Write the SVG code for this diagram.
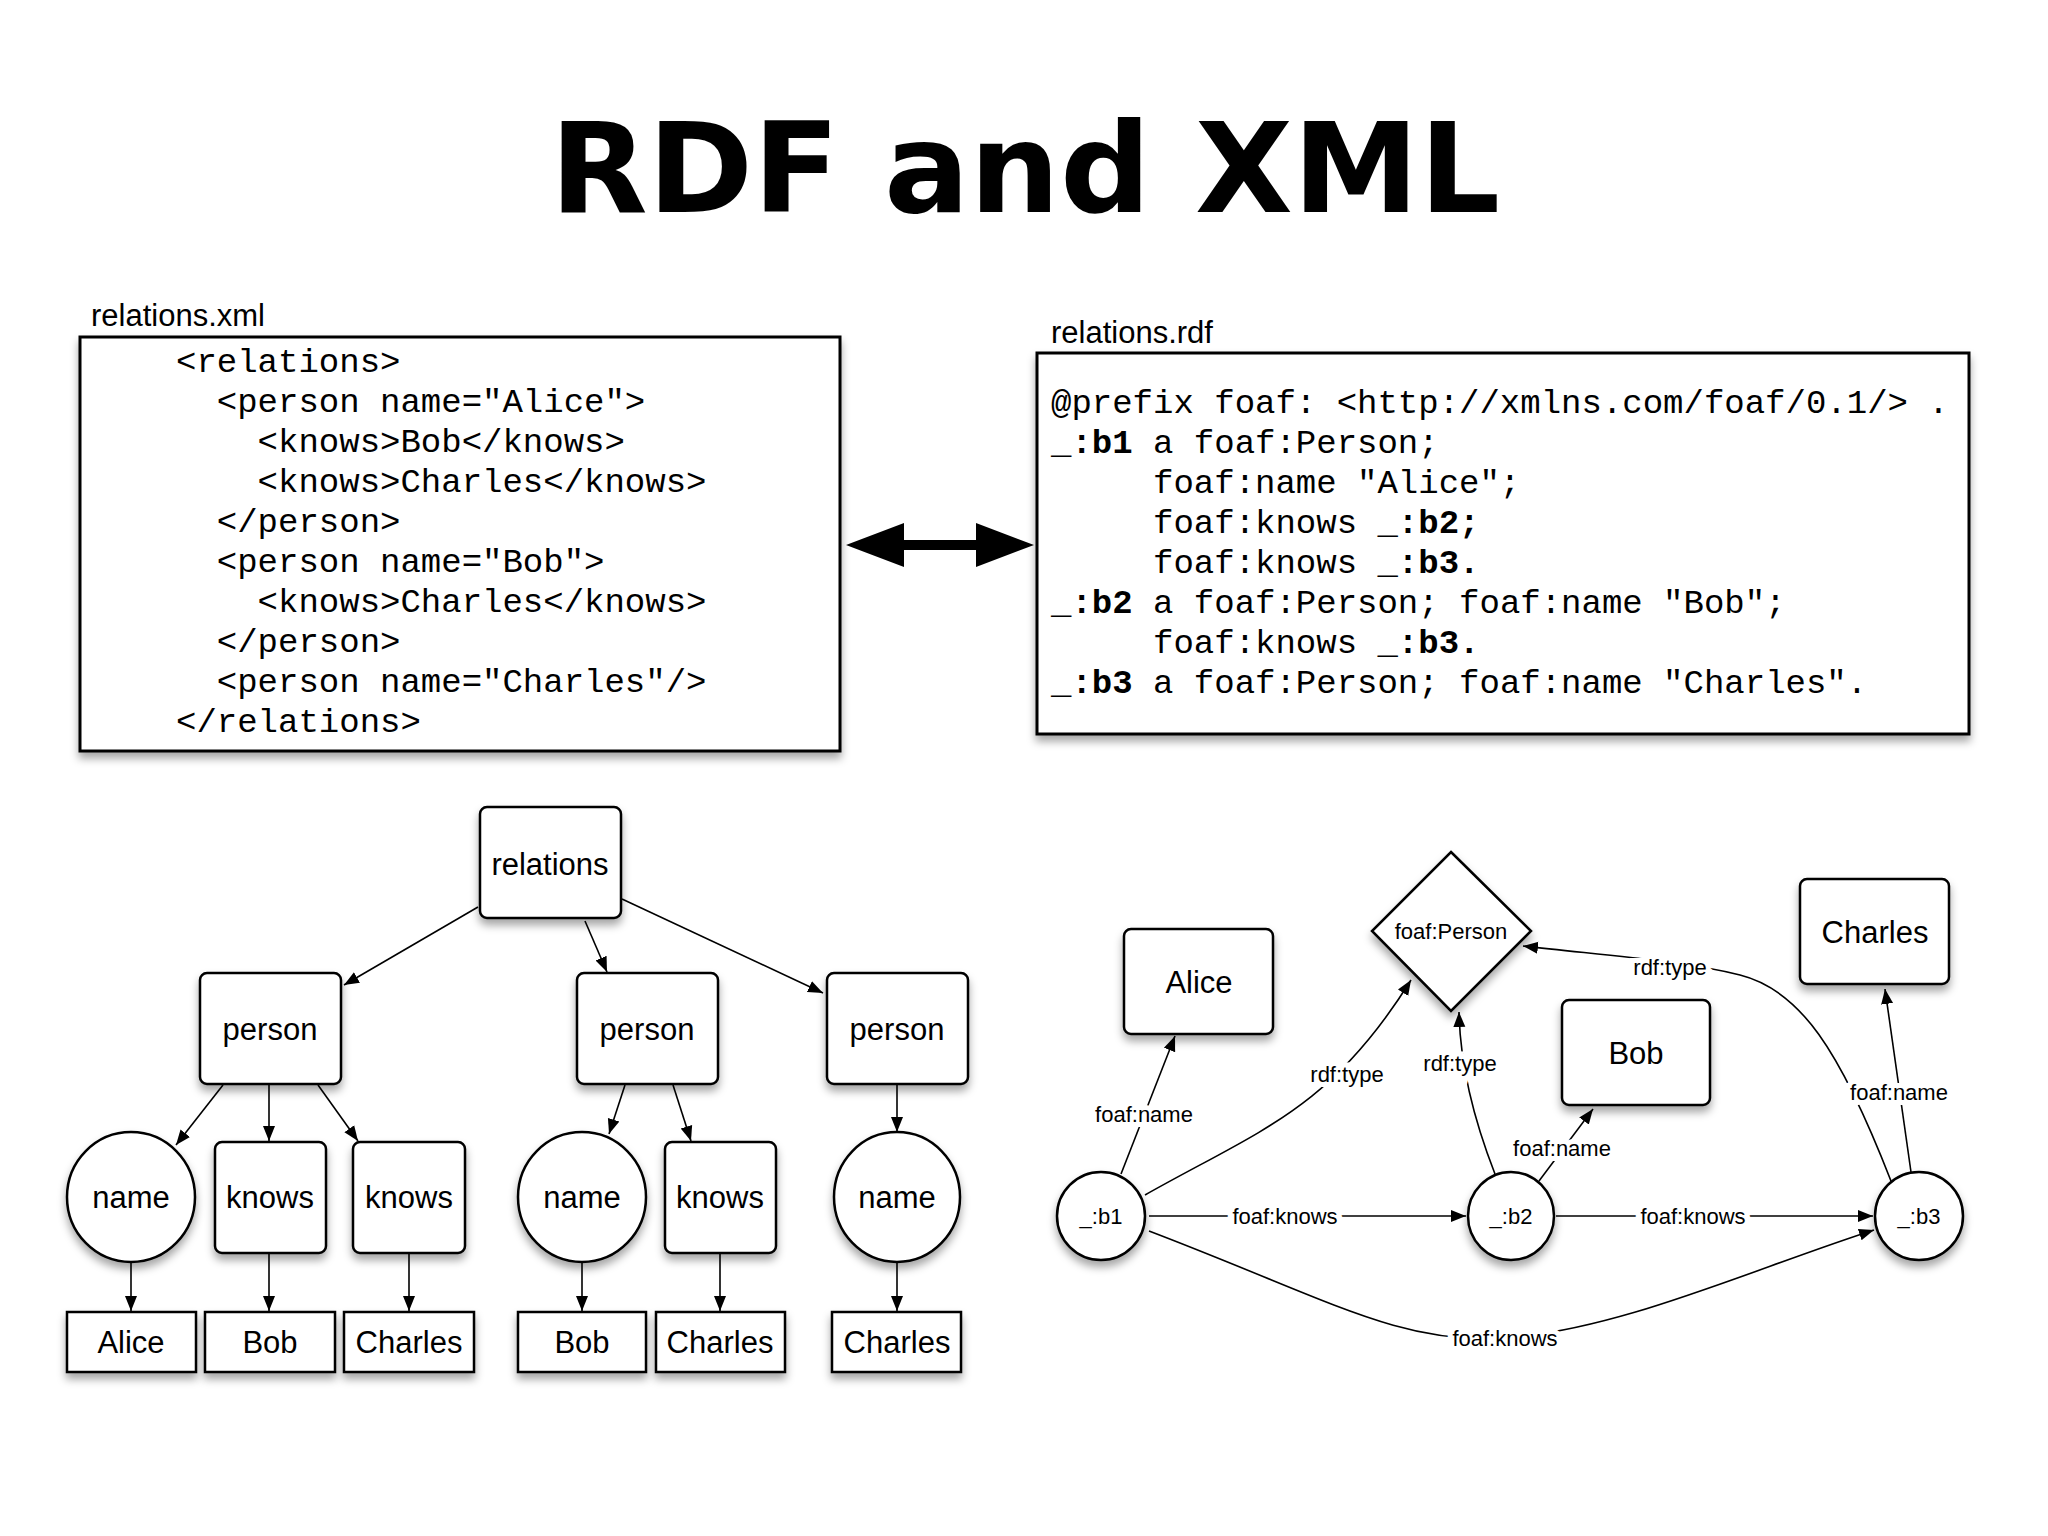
<svg xmlns="http://www.w3.org/2000/svg" width="2048" height="1536" viewBox="0 0 2048 1536">
<style>
.box{fill:#fff;stroke:#000;stroke-width:2.5;filter:url(#sh)}
.big{fill:#fff;stroke:#000;stroke-width:3;filter:url(#sh)}
.code{font-family:"Liberation Mono",monospace;font-size:34px;white-space:pre}
.lbl{font-family:"Liberation Sans",Arial,sans-serif;font-size:31px}
.nt{font-family:"Liberation Sans",Arial,sans-serif;font-size:31px;text-anchor:middle;dominant-baseline:central}
.sm{font-size:22px}
.et{font-family:"Liberation Sans",Arial,sans-serif;font-size:22px;text-anchor:middle;dominant-baseline:central;stroke:#fff;stroke-width:10;paint-order:stroke}
.e{fill:none;stroke:#000;stroke-width:1.6;marker-end:url(#ah)}
</style>
<defs>
<filter id="sh" x="-20%" y="-20%" width="140%" height="150%"><feDropShadow dx="0" dy="6" stdDeviation="4" flood-opacity="0.35"/></filter>
<marker id="ah" viewBox="0 0 10 10" refX="10" refY="5" markerWidth="15" markerHeight="15" markerUnits="userSpaceOnUse" orient="auto"><path d="M0,1 L10,5 L0,9 z"/></marker>
</defs>
<rect width="2048" height="1536" fill="#fff"/>
<text x="1025" y="212" text-anchor="middle" font-family="DejaVu Sans, sans-serif" font-weight="bold" font-size="125" textLength="950" lengthAdjust="spacingAndGlyphs">RDF and XML</text>

<g id="xmlbox">
<text class="lbl" x="91" y="326">relations.xml</text>
<rect class="big" x="80" y="337" width="760" height="414"/>
<text class="code" x="176" y="372">&lt;relations&gt;</text>
<text class="code" x="176" y="412">  &lt;person name="Alice"&gt;</text>
<text class="code" x="176" y="452">    &lt;knows&gt;Bob&lt;/knows&gt;</text>
<text class="code" x="176" y="492">    &lt;knows&gt;Charles&lt;/knows&gt;</text>
<text class="code" x="176" y="532">  &lt;/person&gt;</text>
<text class="code" x="176" y="572">  &lt;person name="Bob"&gt;</text>
<text class="code" x="176" y="612">    &lt;knows&gt;Charles&lt;/knows&gt;</text>
<text class="code" x="176" y="652">  &lt;/person&gt;</text>
<text class="code" x="176" y="692">  &lt;person name="Charles"/&gt;</text>
<text class="code" x="176" y="732">&lt;/relations&gt;</text>
</g>

<g id="rdfbox">
<text class="lbl" x="1051" y="343">relations.rdf</text>
<rect class="big" x="1037" y="353" width="932" height="381"/>
<text class="code" x="1051" y="413">@prefix foaf: &lt;http://xmlns.com/foaf/0.1/&gt; .</text>
<text class="code" x="1051" y="453">_<tspan font-weight="bold">:b1</tspan> a foaf:Person;</text>
<text class="code" x="1051" y="493">     foaf:name "Alice";</text>
<text class="code" x="1051" y="533">     foaf:knows _<tspan font-weight="bold">:b2;</tspan></text>
<text class="code" x="1051" y="573">     foaf:knows _<tspan font-weight="bold">:b3.</tspan></text>
<text class="code" x="1051" y="613">_<tspan font-weight="bold">:b2</tspan> a foaf:Person; foaf:name "Bob";</text>
<text class="code" x="1051" y="653">     foaf:knows _<tspan font-weight="bold">:b3.</tspan></text>
<text class="code" x="1051" y="693">_<tspan font-weight="bold">:b3</tspan> a foaf:Person; foaf:name "Charles".</text>
</g>

<g id="dblarrow">
<path d="M846,545 L904,523 L904,540 L976,540 L976,523 L1034,545 L976,567 L976,550 L904,550 L904,567 z" fill="#000"/>
</g>

<g id="tree-nodes">
<g id="t-relations"><rect class="box" x="480" y="807" width="141" height="111" rx="7"/><text class="nt" x="550" y="864">relations</text></g>
<g id="t-person1"><rect class="box" x="200" y="973" width="141" height="111" rx="7"/><text class="nt" x="270" y="1029">person</text></g>
<g id="t-person2"><rect class="box" x="577" y="973" width="141" height="111" rx="7"/><text class="nt" x="647" y="1029">person</text></g>
<g id="t-person3"><rect class="box" x="827" y="973" width="141" height="111" rx="7"/><text class="nt" x="897" y="1029">person</text></g>
<g id="t-name1"><ellipse class="box" cx="131" cy="1197" rx="64" ry="65"/><text class="nt" x="131" y="1197">name</text></g>
<g id="t-knows1"><rect class="box" x="215" y="1142" width="111" height="111" rx="7"/><text class="nt" x="270" y="1197">knows</text></g>
<g id="t-knows2"><rect class="box" x="353" y="1142" width="112" height="111" rx="7"/><text class="nt" x="409" y="1197">knows</text></g>
<g id="t-name2"><ellipse class="box" cx="582" cy="1197" rx="64" ry="65"/><text class="nt" x="582" y="1197">name</text></g>
<g id="t-knows3"><rect class="box" x="665" y="1142" width="111" height="111" rx="7"/><text class="nt" x="720" y="1197">knows</text></g>
<g id="t-name3"><ellipse class="box" cx="897" cy="1197" rx="63" ry="65"/><text class="nt" x="897" y="1197">name</text></g>
<g id="t-alice"><rect class="box" x="67" y="1312" width="129" height="60"/><text class="nt" x="131" y="1342">Alice</text></g>
<g id="t-bob1"><rect class="box" x="205" y="1312" width="130" height="60"/><text class="nt" x="270" y="1342">Bob</text></g>
<g id="t-charles1"><rect class="box" x="344" y="1312" width="130" height="60"/><text class="nt" x="409" y="1342">Charles</text></g>
<g id="t-bob2"><rect class="box" x="518" y="1312" width="128" height="60"/><text class="nt" x="582" y="1342">Bob</text></g>
<g id="t-charles2"><rect class="box" x="656" y="1312" width="129" height="60"/><text class="nt" x="720" y="1342">Charles</text></g>
<g id="t-charles3"><rect class="box" x="832" y="1312" width="129" height="60"/><text class="nt" x="897" y="1342">Charles</text></g>
</g>

<g id="tree-edges">
<path class="e" d="M478,907 L344,985"/>
<path class="e" d="M585,921 L607,972"/>
<path class="e" d="M622,899 L823,993"/>
<path class="e" d="M223,1085 L176,1145"/>
<path class="e" d="M269,1085 L269,1141"/>
<path class="e" d="M318,1085 L358,1141"/>
<path class="e" d="M625,1085 L609,1134"/>
<path class="e" d="M673,1085 L691,1141"/>
<path class="e" d="M897,1085 L897,1132"/>
<path class="e" d="M131,1262 L131,1311"/>
<path class="e" d="M269,1253 L269,1311"/>
<path class="e" d="M409,1253 L409,1311"/>
<path class="e" d="M582,1262 L582,1311"/>
<path class="e" d="M720,1253 L720,1311"/>
<path class="e" d="M897,1262 L897,1311"/>
</g>

<g id="graph-nodes">
<g id="g-alice"><rect class="box" x="1124" y="929" width="149" height="105" rx="7"/><text class="nt" x="1199" y="982">Alice</text></g>
<g id="g-person"><path class="box" d="M1451,852 L1531,931 L1451,1011 L1372,931 z"/><text class="nt sm" x="1451" y="931">foaf:Person</text></g>
<g id="g-charles"><rect class="box" x="1800" y="879" width="149" height="105" rx="7"/><text class="nt" x="1875" y="932">Charles</text></g>
<g id="g-bob"><rect class="box" x="1562" y="1000" width="148" height="105" rx="7"/><text class="nt" x="1636" y="1053">Bob</text></g>
<g id="g-b1"><ellipse class="box" cx="1101" cy="1216" rx="44" ry="44"/><text class="nt sm" x="1101" y="1216">_:b1</text></g>
<g id="g-b2"><ellipse class="box" cx="1511" cy="1216" rx="43" ry="44"/><text class="nt sm" x="1511" y="1216">_:b2</text></g>
<g id="g-b3"><ellipse class="box" cx="1919" cy="1216" rx="44" ry="44"/><text class="nt sm" x="1919" y="1216">_:b3</text></g>
</g>

<g id="graph-edges">
<path class="e" d="M1121,1174 L1175,1036"/>
<text class="et" x="1144" y="1114">foaf:name</text>
<path class="e" d="M1145,1195 C1260,1130 1330,1110 1411,980"/>
<text class="et" x="1347" y="1074">rdf:type</text>
<path class="e" d="M1495,1174 C1470,1110 1460,1060 1459,1012"/>
<text class="et" x="1460" y="1063">rdf:type</text>
<path class="e" d="M1539,1181 L1593,1109"/>
<text class="et" x="1562" y="1148">foaf:name</text>
<path class="e" d="M1891,1181 C1840,1050 1800,990 1740,975 C1680,960 1600,955 1523,946"/>
<text class="et" x="1670" y="967">rdf:type</text>
<path class="e" d="M1911,1172 L1885,989"/>
<text class="et" x="1899" y="1092">foaf:name</text>
<path class="e" d="M1149,1216 L1466,1216"/>
<text class="et" x="1285" y="1216">foaf:knows</text>
<path class="e" d="M1556,1216 L1873,1216"/>
<text class="et" x="1693" y="1216">foaf:knows</text>
<path class="e" d="M1149,1231 C1330,1300 1400,1345 1505,1338 C1620,1330 1750,1270 1874,1230"/>
<text class="et" x="1505" y="1338">foaf:knows</text>
</g>
</svg>
